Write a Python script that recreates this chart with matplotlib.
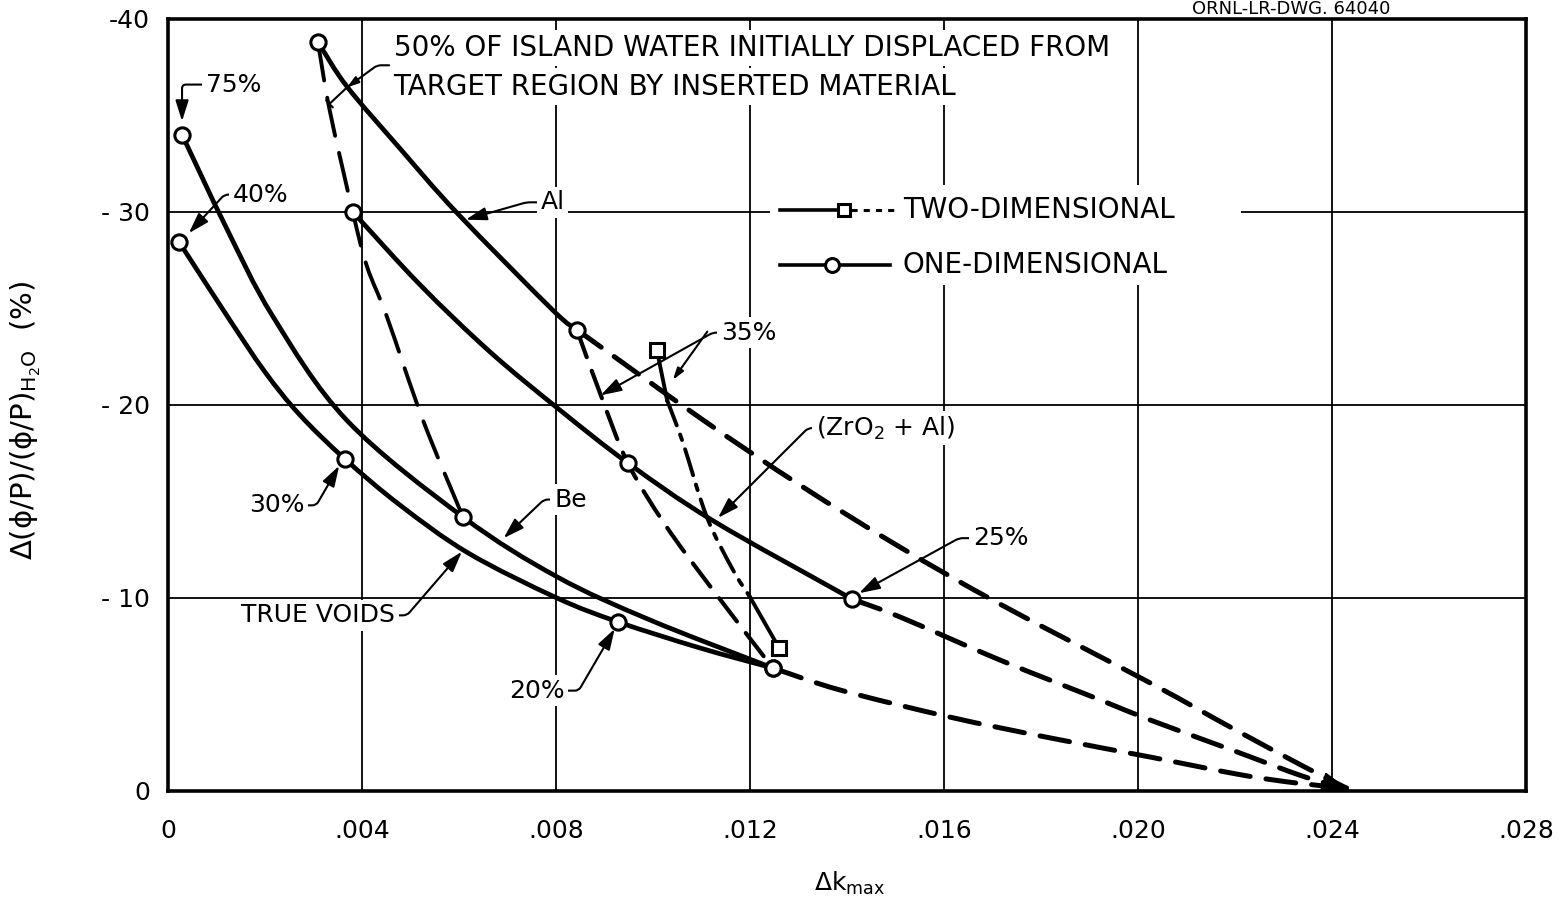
import numpy as np
import matplotlib.pyplot as plt
from matplotlib.path import Path
from matplotlib.patches import PathPatch

plt.rcParams['font.family'] = ['DejaVu Sans']
plt.rcParams['mathtext.default'] = 'regular'

# one-dimensional curves (solid), circles at the computed cases
al_x = [0.00309, 0.00369, 0.00478, 0.00596, 0.00794, 0.00843]
al_y = [-38.8, -36.5, -33.3, -29.95, -24.9, -23.9]
al_marks = [0, 5]

zr_x = [0.00381, 0.0052, 0.00664, 0.00808, 0.00948, 0.01124, 0.0141]
zr_y = [-30.0, -26.22, -22.75, -19.74, -17.0, -14.0, -9.95]
zr_marks = [0, 4, 6]

be_x = [0.00029, 0.00118, 0.00216, 0.00369, 0.00608, 0.00802, 0.00994, 0.01247]
be_y = [-34.0, -29.3, -24.6, -19.2, -14.2, -11.1, -8.86, -6.37]
be_marks = [0, 4, 7]

tv_x = [0.00023, 0.00122, 0.0020, 0.00272, 0.00365, 0.00478, 0.00619, 0.00802,
        0.00928, 0.01097, 0.01247]
tv_y = [-28.44, -24.61, -21.71, -19.48, -17.2, -14.82, -12.33, -10.0,
        -8.76, -7.41, -6.37]
tv_marks = [0, 4, 8, 10]

# lines of equal displaced water
p50_x = [0.00309, 0.00334, 0.00381, 0.0041, 0.00451, 0.00526, 0.00608]
p50_y = [-38.8, -35.2, -30.0, -27.2, -24.6, -19.2, -14.2]

p35_x = [0.00843, 0.00891, 0.00948, 0.01025, 0.01118, 0.01247]
p35_y = [-23.9, -20.6, -17.0, -13.8, -10.6, -6.37]

# two-dimensional 35% case
two_x = [0.01008, 0.01029, 0.01062, 0.01111, 0.01165, 0.0120, 0.0126]
two_y = [-22.85, -20.26, -18.03, -14.2, -11.45, -10.05, -7.41]

# extrapolations to the end point
end_x, end_y = 0.0243, -0.15
al_ext_x = [0.00843, 0.01097, 0.01303, 0.01509, 0.01715, 0.02025, 0.02194, 0.02344, end_x]
al_ext_y = [-23.9, -19.33, -15.85, -12.64, -9.69, -5.60, -3.26, -1.24, end_y]
zr_ext_x = [0.0141, 0.01509, 0.01715, 0.01922, 0.02025, 0.02194, 0.02344, end_x]
zr_ext_y = [-9.95, -9.02, -6.79, -4.72, -3.68, -2.12, -0.73, end_y]
be_ext_x = [0.01247, 0.01386, 0.01612, 0.01819, 0.02025, 0.02214, 0.02328, end_x]
be_ext_y = [-6.37, -5.23, -3.83, -2.75, -1.76, -0.83, -0.41, end_y]

xticks = [0, 0.004, 0.008, 0.012, 0.016, 0.020, 0.024, 0.028]
xlabels = ['0', '.004', '.008', '.012', '.016', '.020', '.024', '.028']
yticks = [-40, -30, -20, -10, 0]
ylabels = ['-40', '- 30', '- 20', '- 10', '0']


def curve(ax, x, y, **kw):
    # smooth drawn line through the read points (Catmull-Rom as cubic Beziers)
    p = np.column_stack([x, y])
    e = np.vstack([2 * p[0] - p[1], p, 2 * p[-1] - p[-2]])
    verts, codes = [p[0]], [Path.MOVETO]
    for i in range(len(p) - 1):
        p0, p1, p2, p3 = e[i], e[i + 1], e[i + 2], e[i + 3]
        verts += [p1 + (p2 - p0) / 6, p2 - (p3 - p1) / 6, p2]
        codes += [Path.CURVE4] * 3
    ax.add_patch(PathPatch(Path(verts, codes), fill=False, ec='black',
                           capstyle='round', zorder=2, **kw))


fig = plt.figure(figsize=(15.64, 9.07), dpi=100)
ax = fig.add_axes([0.1074, 0.1279, 0.8683, 0.8512])
ax.set_xlim(0, 0.028)
ax.set_ylim(0, -40)
ax.set_axisbelow(True)
ax.grid(True, color='black', lw=1.3)
for s in ax.spines.values():
    s.set_linewidth(2.6)

circ = dict(marker='o', ms=11, mfc='white', mec='black', mew=2.2)
for x, y, m in [(al_x, al_y, al_marks), (zr_x, zr_y, zr_marks),
                (be_x, be_y, be_marks), (tv_x, tv_y, tv_marks)]:
    curve(ax, x, y, lw=3.4)
    ax.plot([x[i] for i in m], [y[i] for i in m], ls='none', zorder=5, **circ)

curve(ax, p50_x, p50_y, lw=2.8, ls=(0, (10, 4.5)))
curve(ax, p35_x, p35_y, lw=3.0, ls=(0, (7, 3.5)))

ax.plot(two_x[:2], two_y[:2], color='black', lw=2.8, zorder=2)
curve(ax, two_x[1:-1], two_y[1:-1], lw=2.8, ls=(0, (7, 2.5, 1.5, 2.5)))
ax.plot(two_x[-2:], two_y[-2:], color='black', lw=2.8, zorder=2)
ax.plot([two_x[0], two_x[-1]], [two_y[0], two_y[-1]], ls='none', marker='s',
        ms=10, mfc='white', mec='black', mew=2.2, zorder=5)

for x, y in [(al_ext_x, al_ext_y), (zr_ext_x, zr_ext_y), (be_ext_x, be_ext_y)]:
    curve(ax, x, y, lw=3.6, ls=(0, (6, 3.2)))

tri = Path([(-0.4, 0.55), (1.0, -0.5), (-0.7, -0.5), (-0.4, 0.55)])
ax.plot([end_x - 0.0003], [end_y - 0.3], marker=tri, ms=24, color='black',
        ls='none', zorder=4)

ax.set_xticks(xticks)
ax.set_xticklabels(xlabels)
ax.set_yticks(yticks)
ax.set_yticklabels(ylabels)
ax.tick_params(axis='both', length=0, labelsize=18)
ax.tick_params(axis='x', pad=20)
ax.tick_params(axis='y', pad=13)

ax.set_xlabel(r'$\Delta k_{max}$', fontsize=18)
ax.xaxis.set_label_coords(0.502, -0.102)
ax.set_ylabel(r'$\Delta(\phi/P)/(\phi/P)_{H_2O}$  (%)', fontsize=21)
ax.yaxis.set_label_coords(-0.092, 0.48)

wb = dict(boxstyle='square,pad=0.15', fc='white', ec='none')
arr = dict(arrowstyle='-|>,head_length=0.7,head_width=0.22', color='black',
           lw=1.5, shrinkA=0, shrinkB=0)


def lead(txt, xy, xytext, ha='left', arm=10, **kw):
    a = dict(arr, connectionstyle='arc,angleA=%d,armA=%d,armB=0,rad=4'
             % (180 if ha == 'left' else 0, arm),
             relpos=(0, 0.5) if ha == 'left' else (1, 0.5))
    a.update(kw)
    ax.annotate(txt, xy=xy, xytext=xytext, ha=ha, va='center', fontsize=18,
                bbox=wb, arrowprops=a, zorder=1)


# percentage labels and curve names
lead('75%', (0.00029, -34.7), (0.00078, -36.6), arm=14,
     connectionstyle='angle,angleA=180,angleB=90,rad=4')
lead('40%', (0.00043, -28.9), (0.00133, -30.9), arm=8)
lead('Al', (0.00614, -29.6), (0.00768, -30.5), arm=14)
lead('35%', (0.00892, -20.5), (0.0114, -23.75), arm=8)
ax.annotate('', xy=(0.01041, -21.3), xytext=(0.01112, -23.8),
            arrowprops=arr, zorder=1)
lead(r'(ZrO$_2$ + Al)', (0.01134, -14.15), (0.01336, -18.8), arm=8)
lead('25%', (0.01425, -10.25), (0.0166, -13.1), arm=14)
lead('30%', (0.00353, -16.85), (0.00281, -14.8), ha='right', arm=12)
lead('Be', (0.00692, -13.1), (0.00796, -15.1), arm=10)
lead('TRUE VOIDS', (0.00606, -12.4), (0.00468, -9.1), ha='right', arm=12)
lead('20%', (0.00921, -8.4), (0.00818, -5.2), ha='right', arm=14)

# displaced-water note
ax.text(0.00465, -38.5, '50% OF ISLAND WATER INITIALLY DISPLACED FROM',
        fontsize=20, va='center', bbox=wb, zorder=1)
ax.text(0.00465, -36.5, 'TARGET REGION BY INSERTED MATERIAL',
        fontsize=20, va='center', bbox=wb, zorder=1)
ax.annotate('', xy=(0.00369, -36.45), xytext=(0.00456, -37.6),
            arrowprops=dict(arr, connectionstyle='arc,angleA=180,armA=12,armB=0,rad=4'),
            zorder=1)
ax.annotate('', xy=(0.00333, -35.6), xytext=(0.00369, -36.45),
            arrowprops=dict(arrowstyle='-[,widthB=0.35,lengthB=0', color='black',
                            lw=1.5, shrinkA=0, shrinkB=0), zorder=1)

# legend
T = ax.transAxes
ax.add_patch(plt.Rectangle((0.443, 0.655), 0.347, 0.13, transform=T,
                           fc='white', ec='none', zorder=1))
ax.plot([0.4507, 0.4934], [0.7526, 0.7526], transform=T, color='black', lw=2.6, zorder=3)
ax.plot([0.5030, 0.5353], [0.7526, 0.7526], transform=T, color='black', lw=2.2,
        dashes=(2, 2), zorder=3)
ax.plot([0.4975], [0.7526], transform=T, marker='s', ms=9, mfc='white', mec='black',
        mew=2.2, zorder=5)
ax.plot([0.4507, 0.5317], [0.6813, 0.6813], transform=T, color='black', lw=2.6, zorder=3)
ax.plot([0.4889], [0.6813], transform=T, ls='none', zorder=5,
        **dict(circ, ms=10))
ax.text(0.5412, 0.7526, 'TWO-DIMENSIONAL', transform=T, fontsize=20, va='center')
ax.text(0.5412, 0.6813, 'ONE-DIMENSIONAL', transform=T, fontsize=20, va='center')

fig.text(0.762, 0.985, 'ORNL-LR-DWG. 64040', fontsize=13, va='baseline')

fig.savefig('out.png', dpi=100)
